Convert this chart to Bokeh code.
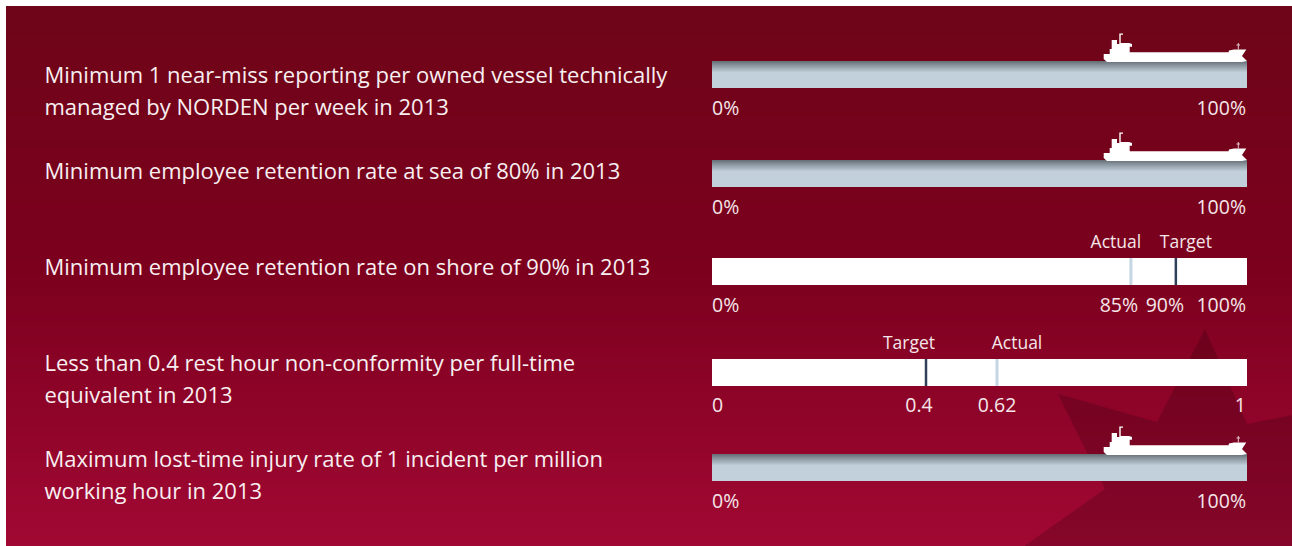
from bokeh.core.properties import value
from bokeh.embed import file_html
from bokeh.models import Range1d
from bokeh.plotting import figure
from bokeh.resources import INLINE
import numpy as np

FONT = "Open Sans"

# KPI descriptions, one list of lines per row
goal_lines = [
    ["Minimum 1 near-miss reporting per owned vessel technically",
     "managed by NORDEN per week in 2013"],
    ["Minimum employee retention rate at sea of 80% in 2013"],
    ["Minimum employee retention rate on shore of 90% in 2013"],
    ["Less than 0.4 rest hour non-conformity per full-time",
     "equivalent in 2013"],
    ["Maximum lost-time injury rate of 1 incident per million",
     "working hour in 2013"],
]

# Row kinds: a reached goal shows the ship, the others show actual vs target
reached = [True, True, False, False, True]
scale_max = [100, 100, 100, 1, 100]
scale_unit = ["%", "%", "%", "", "%"]
actual = [None, None, 85, 0.62, None]
target = [None, None, 90, 0.4, None]

# Each bar is schematic: value stops and the share of the bar they sit at
scale_stops = {
    2: ([0, 85, 90, 100], [0, 0.783, 0.867, 1]),
    3: ([0, 0.4, 0.62, 1], [0, 0.40, 0.5327, 1]),
}

WIDTH, HEIGHT = 1292, 546
BAR_LEFT, BAR_RIGHT = 712, 1247
BAR_HEIGHT = 27
bar_tops = [61, 160, 258, 359, 454]
text_first_line = [74, 170, 266, 362, 458]
LINE_STEP = 32
TICK_OFFSET = 19


def to_x(row, v):
    """Bar scale of a row: value to page x."""
    stops = scale_stops.get(row, ([0, scale_max[row]], [0, 1]))
    return BAR_LEFT + (BAR_RIGHT - BAR_LEFT) * float(np.interp(v, stops[0], stops[1]))


def blend(stops, t):
    return "#%02x%02x%02x" % tuple(
        int(round(np.interp(t, stops[0], [c[i] for c in stops[1]]))) for i in range(3)
    )


p = figure(width=WIDTH, height=HEIGHT, output_backend="svg", toolbar_location=None,
           x_range=Range1d(0.5, WIDTH + 0.5), y_range=Range1d(HEIGHT + 0.5, 0.5), min_border=0,
           outline_line_color=None, background_fill_color="white",
           border_fill_color="white")
p.axis.visible = False
p.grid.visible = False

# Panel background: vertical gradient, each band runs down to the panel's foot
rows_y = np.arange(6, HEIGHT)
panel_stops = ([6, 270, 546], [(110, 5, 24), (124, 0, 30), (161, 8, 51)])
p.quad(left=6, right=WIDTH + 1, top=rows_y, bottom=HEIGHT + 1,
       fill_color=[blend(panel_stops, y) for y in rows_y], line_color=None)

# Maple-leaf style emblem behind the lower rows
emblem_x = [1205, 1247, 1293, 1293, 1023, 1105, 1058, 1157]
emblem_y = [329, 424, 415, 547, 547, 489, 394, 422]
p.patch(emblem_x, emblem_y, fill_color="#000000", fill_alpha=0.17, line_color=None)

# Tanker silhouette, offsets from the bar's top right corner
ship_dx = [-143.3, -143.3, -140, -5, 0, -5, -0.7, -13, -18, -18.5, -117.3, -117.3, -115, -115,
           -118, -126.3, -126.3, -124, -124, -127.7, -127.7, -130, -130, -135.3, -135.3,
           -137.3, -137.3]
ship_dy = [-7, -2, 1, 1, 0, -5, -11.5, -11.5, -10.5, -8.7, -8.7, -14.3, -14.3, -17, -18, -18,
           -26.3, -26.3, -27.5, -27.5, -17, -17, -21, -21, -12, -12, -7]

bar_shade = ([0, 3, 11, 27], [(104, 112, 120), (130, 141, 150), (194, 208, 219), (194, 208, 219)])

for row, top in enumerate(bar_tops):
    x0 = to_x(row, 0)
    x1 = to_x(row, scale_max[row])
    if reached[row]:
        depth = np.arange(BAR_HEIGHT)
        p.quad(left=x0, right=x1, top=top + depth, bottom=top + BAR_HEIGHT,
               fill_color=[blend(bar_shade, d) for d in depth], line_color=None)
        p.patch([x1 + d for d in ship_dx], [top + d for d in ship_dy],
                fill_color="white", line_color=None)
        # The bow mast is finer than the hull outline
        p.segment(x1 - 8.7, top - 18, x1 - 8.7, top - 11.5, line_color="#e6c8cf", line_width=1)
        p.segment(x1 - 10.5, top - 16, x1 - 7, top - 16, line_color="#e6c8cf", line_width=1)
    else:
        p.quad(left=x0, right=x1, top=top, bottom=top + BAR_HEIGHT,
               fill_color="white", line_color=None)
        p.segment(to_x(row, actual[row]), top, to_x(row, actual[row]), top + BAR_HEIGHT,
                  line_color="#c6d6e3", line_width=3)
        p.segment(to_x(row, target[row]), top, to_x(row, target[row]), top + BAR_HEIGHT,
                  line_color="#2f4058", line_width=2.5)

# KPI wording
txt_x, txt_y, txt_s = [], [], []
for row, lines in enumerate(goal_lines):
    for i, line in enumerate(lines):
        txt_x.append(44.5)
        txt_y.append(text_first_line[row] + i * LINE_STEP)
        txt_s.append(line)
p.text(txt_x, txt_y, text=txt_s, text_color="#f8eff1", text_font=value(FONT),
       text_font_size="22px", text_baseline="middle", text_align="left")

# Scale ends under each bar
TICK = dict(text_color="#f5e6e9", text_font=value(FONT), text_font_size="19.5px",
            text_baseline="middle")
HEAD = dict(TICK, text_font_size="17.5px")
for row, top in enumerate(bar_tops):
    y = top + BAR_HEIGHT + TICK_OFFSET
    p.text([to_x(row, 0)], [y], text=[f"0{scale_unit[row]}"], text_align="left", **TICK)
    p.text([to_x(row, scale_max[row]) - 1], [y], text=[f"{scale_max[row]}{scale_unit[row]}"],
           text_align="right", **TICK)
    if actual[row] is not None:
        # Labels are nudged apart so neighbours stay readable
        nudge_tick = {2: (-12, -11), 3: (0, -7)}[row]
        nudge_head = {2: (-15, 10), 3: (20, -17)}[row]
        ax, tx = to_x(row, actual[row]), to_x(row, target[row])
        p.text([ax + nudge_tick[0]], [y], text=[f"{actual[row]}{scale_unit[row]}"],
               text_align="center", **TICK)
        p.text([tx + nudge_tick[1]], [y], text=[f"{target[row]}{scale_unit[row]}"],
               text_align="center", **TICK)
        head_y = top - 17
        p.text([ax + nudge_head[0]], [head_y], text=["Actual"], text_align="center", **HEAD)
        p.text([tx + nudge_head[1]], [head_y], text=["Target"], text_align="center", **HEAD)

open("out.html", "w").write(file_html(p, INLINE))
